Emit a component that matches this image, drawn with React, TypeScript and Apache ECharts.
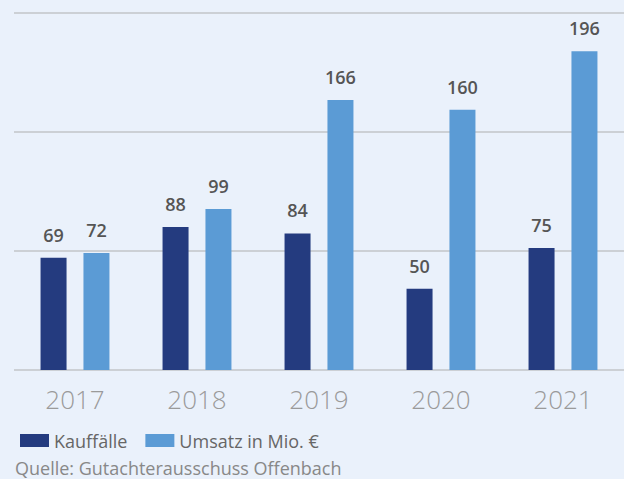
import React, { useEffect, useRef } from "react";
import * as echarts from "echarts";

const years = ["2017", "2018", "2019", "2020", "2021"];
const kauffaelle = [69, 88, 84, 50, 75];
const umsatz = [72, 99, 166, 160, 196];
const seriesNames = ["Kauffälle", "Umsatz in Mio. €"];
const sourceText = "Quelle: Gutachterausschuss Offenbach";

export default function App() {
  const ref = useRef<HTMLDivElement>(null);
  useEffect(() => {
    document.body.style.margin = "0";
    const chart = echarts.init(ref.current!, undefined, { renderer: "svg" });
    const labelStyle = {
      show: true,
      position: "top" as const,
      distance: 14,
      fontFamily: "Open Sans",
      fontWeight: 600,
      fontSize: 18,
      color: "#555555",
    };
    chart.setOption({
      animation: false,
      backgroundColor: "#eaf1fb",
      textStyle: { fontFamily: "Open Sans" },
      grid: { left: 14, right: 0, top: 12.3, bottom: 109 },
      legend: {
        left: 15,
        top: 426.5,
        itemWidth: 29,
        itemHeight: 13,
        itemGap: 18,
        icon: "rect",
        textStyle: {
          fontFamily: "Open Sans",
          fontSize: 18,
          color: "#666666",
          padding: [0, 0, 0, 0],
        },
        data: seriesNames,
      },
      graphic: [
        {
          type: "text",
          left: 15,
          top: 459,
          style: {
            text: sourceText,
            fontFamily: "Open Sans",
            fontSize: 18,
            lineHeight: 18,
            fill: "#888888",
          },
        },
      ],
      xAxis: {
        type: "category",
        data: years,
        axisLine: { show: false },
        axisTick: { show: false },
        axisLabel: {
          margin: 16,
          fontFamily: "Open Sans",
          fontWeight: 300,
          fontSize: 26,
          color: "#9a9a9a",
        },
      },
      yAxis: {
        type: "value",
        min: 0,
        max: 220,
        interval: 220 / 3,
        axisLabel: { show: false },
        axisLine: { show: false },
        axisTick: { show: false },
        splitLine: { lineStyle: { color: "#c2c5c9", width: 1.5 } },
      },
      series: [
        {
          name: seriesNames[0],
          type: "bar",
          data: kauffaelle,
          barWidth: 26,
          barGap: "65%",
          itemStyle: { color: "#243b7f" },
          label: labelStyle,
        },
        {
          name: seriesNames[1],
          type: "bar",
          data: umsatz,
          barWidth: 26,
          barGap: "65%",
          itemStyle: { color: "#5b9bd5" },
          label: labelStyle,
        },
      ],
    });
    return () => chart.dispose();
  }, []);
  return <div ref={ref} style={{ width: 624, height: 479 }} />;
}
